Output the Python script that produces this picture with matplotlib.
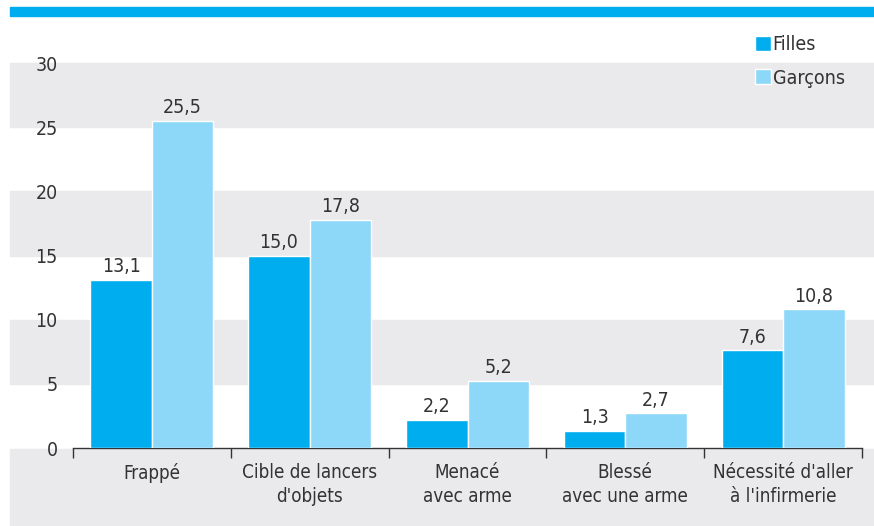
import numpy as np
import matplotlib.pyplot as plt
from matplotlib.patches import Rectangle
from matplotlib.transforms import blended_transform_factory

# Data
categories = ["Frappé", "Cible de lancers\nd'objets", "Menacé\navec arme",
              "Blessé\navec une arme", "Nécessité d'aller\nà l'infirmerie"]
filles = [13.1, 15.0, 2.2, 1.3, 7.6]
garcons = [25.5, 17.8, 5.2, 2.7, 10.8]
yticks = [0, 5, 10, 15, 20, 25, 30]

FILLES_COL = "#00AEEF"
GARCONS_COL = "#8DD8F8"
GRAY = "#EAEAED"
TXT = "#333333"

# condensed face of DejaVu Sans for the narrow look
plt.rcParams['font.family'] = ['DejaVu Sans']
plt.rcParams['font.stretch'] = 'condensed'

W, H = 874, 526
fig = plt.figure(figsize=(W / 100, H / 100), dpi=100)
ax = fig.add_axes([73 / W, (H - 448) / H, (862 - 73) / W, (448 - 63) / H])
ax.set_facecolor("none")
ax.set_zorder(2)

x = np.arange(len(categories))
bw = 0.39
ax.bar(x - bw / 2, filles, bw, color=FILLES_COL, edgecolor="white", linewidth=1, label="Filles", zorder=3)
ax.bar(x + bw / 2, garcons, bw, color=GARCONS_COL, edgecolor="white", linewidth=1, label="Garçons", zorder=3)

def fmt(v):
    return f"{v:.1f}".replace(".", ",")

for xi, v in zip(x, filles):
    ax.text(xi - bw / 2, v + 0.3, fmt(v), ha="center", va="bottom", fontsize=14, color=TXT)
for xi, v in zip(x, garcons):
    ax.text(xi + bw / 2, v + 0.3, fmt(v), ha="center", va="bottom", fontsize=14, color=TXT)

ax.set_xlim(-0.5, len(categories) - 0.5)
ax.set_ylim(0, 30)

# gray bands across the figure width
tr = blended_transform_factory(fig.transFigure, ax.transData)
for lo in [25, 15, 5]:
    fig.patches.append(Rectangle((10 / W, lo), 1, 5, transform=tr, color=GRAY, zorder=-1))
fig.patches.append(Rectangle((10 / W, 0), 1, 77 / H, transform=fig.transFigure, color=GRAY, zorder=-1))
# top strip
fig.patches.append(Rectangle((10 / W, (H - 15.5) / H), 1, 8.5 / H, transform=fig.transFigure,
                             color=FILLES_COL, zorder=-1))

for s in ["top", "left", "right"]:
    ax.spines[s].set_visible(False)
ax.spines["bottom"].set_color(TXT)
ax.spines["bottom"].set_linewidth(1)

ax.set_yticks(yticks)
ax.set_yticklabels([str(t) for t in yticks])
ax.tick_params(axis="y", length=0, pad=11, labelsize=14, labelcolor=TXT)
ax.set_xticks(x)
ax.set_xticklabels(categories, linespacing=1.3)
ax.tick_params(axis="x", which="major", length=0, pad=11, labelsize=13.5, labelcolor=TXT)
ax.set_xticks(np.arange(len(categories) + 1) - 0.5, minor=True)
ax.tick_params(axis="x", which="minor", length=7, width=1, color=TXT, direction="out")

fig.legend(loc="upper left", bbox_to_anchor=(755 / W, (H - 35) / H), frameon=False,
           fontsize=14, handlelength=0.8, handleheight=0.8, handletextpad=0.1,
           labelspacing=0.75, borderpad=0, borderaxespad=0, labelcolor=TXT)

fig.savefig("out.png", dpi=100)
